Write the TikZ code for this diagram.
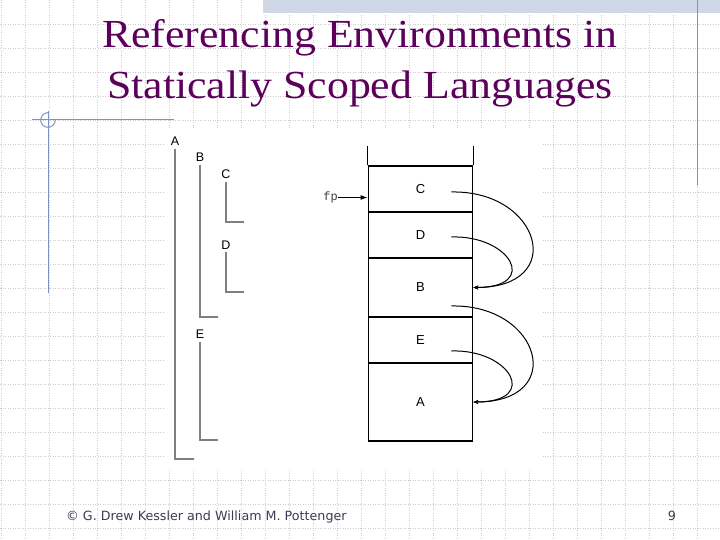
\documentclass[tikz,border=0pt]{standalone}
\usepackage{fontspec}
\setmainfont{Liberation Sans}
\newfontfamily\titlefont[FakeStretch=1.1]{Liberation Serif}
\newfontfamily\footfont{DejaVu Sans}
\newfontfamily\fpfont{Liberation Mono}
\usetikzlibrary{arrows.meta,calc}
\definecolor{titlecol}{RGB}{92,0,92}
\definecolor{footcol}{RGB}{60,60,85}
\definecolor{decocol}{RGB}{125,145,195}
\definecolor{hatchcol}{RGB}{208,216,232}
\definecolor{gridcol}{RGB}{205,205,205}
\definecolor{scopecol}{RGB}{128,128,128}
\begin{document}
\begin{tikzpicture}[x=1bp,y=-1bp,
  gridline/.style={gridcol,line width=0.6bp,dash pattern=on 1bp off 1.5bp},
  deco/.style={decocol,line width=1bp},
  titlestyle/.style={titlecol,inner sep=0,font=\titlefont\fontsize{39.8bp}{44bp}\selectfont},
  scopelabel/.style={inner sep=0,font=\fontsize{12.5bp}{13bp}\selectfont},
  scopeline/.style={scopecol,line width=2bp},
  frame/.style={draw,line width=1.3bp,minimum width=104.4bp,inner sep=0,font=\fontsize{13bp}{14bp}\selectfont},
  stackline/.style={line width=1.3bp},
  link/.style={line width=1bp,-{Stealth[length=5bp,width=4bp]}},
  foot/.style={footcol,inner sep=0,font=\footfont\fontsize{12.7bp}{14bp}\selectfont}]
\useasboundingbox (0,0) rectangle (720,540);
\fill[white] (0,0) rectangle (720,540);
% background grid
\foreach \i in {0,...,29} \draw[gridline] ({1+24*\i},0) -- ({1+24*\i},540);
\foreach \j in {1,...,22} \draw[gridline] (0,{24*\j}) -- (720,{24*\j});
% white panel behind the figure
\fill[white] (164,128) rectangle (541,470);
% decorations
\fill[hatchcol] (263,0) rectangle (720,12.7);
\draw[deco] (697,0) -- (697,185);
\draw[deco] (32,119.5) -- (174,119.5);
\draw[deco] (48,111) -- (48,293);
\draw[deco] (55.3,120) arc[start angle=0,end angle=270,radius=7.3];
% title
\node[titlestyle,anchor=base] (t1) at (360,47.7) {Referencing Environments in};
\node[titlestyle,anchor=base] (t2) at (360,98.3) {Statically Scoped Languages};
% static scope nesting
\node[scopelabel] (sA) at (175,141) {A};
\node[scopelabel] (sB) at (200,157.7) {B};
\node[scopelabel] (sC) at (226,174.3) {C};
\node[scopelabel] (sD) at (226,245.7) {D};
\node[scopelabel] (sE) at (200,334.3) {E};
\coordinate (eA) at (194,459);
\coordinate (eB) at (218,317);
\coordinate (eC) at (244,222);
\coordinate (eD) at (244,292);
\coordinate (eE) at (218,440);
\draw[scopeline] (175,149) |- (eA);
\draw[scopeline] (200,165) |- (eB);
\draw[scopeline] (226,182) |- (eC);
\draw[scopeline] (226,252) |- (eD);
\draw[scopeline] (200,342) |- (eE);
% stack of frames
\node[frame,minimum height=46bp] (fC) at (420.5,189) {C};
\node[frame,minimum height=46bp] (fD) at (420.5,235) {D};
\node[frame,minimum height=59bp] (fB) at (420.5,287.5) {B};
\node[frame,minimum height=46bp] (fE) at (420.5,340) {E};
\node[frame,minimum height=78bp] (fA) at (420.5,402) {A};
\draw[stackline] (fC.north west) -- ++(0,-19);
\draw[stackline] (fC.north east) -- ++(0,-19);
% frame pointer
\node[inner sep=0,black!75,font=\fpfont\fontsize{12bp}{13bp}\selectfont] (fp) at (330.5,197.5) {fp};
\draw[line width=1.2bp,-{Latex[length=7bp,width=5bp]}] (fp.east) -- (fp.east -| fC.west);
% static links
\draw[link] ($(fC.east)+(-22,3)$) .. controls +(89,-2) and +(95,0) .. (fB.east);
\draw[link] ($(fD.east)+(-22,2)$) .. controls +(59,-2) and +(67,0) .. (fB.east);
\draw[link] ($(fB.east)+(-22,18.5)$) .. controls +(89,-2) and +(95,0) .. (fA.east);
\draw[link] ($(fE.east)+(-22,11)$) .. controls +(59,-2) and +(67,0) .. (fA.east);
% footer
\node[foot,anchor=base west] (cr) at (66,520) {© G. Drew Kessler and William M. Pottenger};
\node[foot,anchor=base] (pg) at (672,520) {9};
\end{tikzpicture}
\end{document}
